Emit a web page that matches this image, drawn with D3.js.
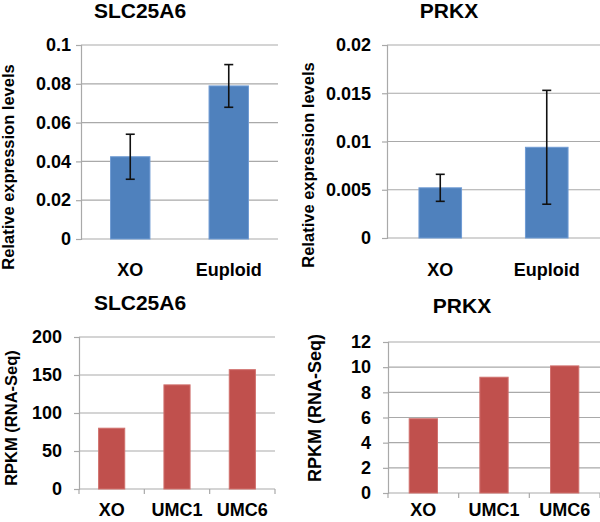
<!DOCTYPE html>
<html>
<head>
<meta charset="utf-8">
<script src="https://cdn.jsdelivr.net/npm/d3@7"></script>
<style>
  body { margin: 0; background: #fff; }
  text { font-family: "Liberation Sans", Arial, sans-serif; font-weight: bold; fill: #000; }
</style>
</head>
<body>
<svg id="chart"></svg>
<script>
// qPCR panels
const qpcrCats = ["XO", "Euploid"];
const slcQpcr = [0.0424, 0.0789];
const slcQpcrErr = [0.0116, 0.011];
const prkxQpcr = [0.0052, 0.0094];
const prkxQpcrErr = [0.0014, 0.0059];
const slcQpcrTicks = [0, 0.02, 0.04, 0.06, 0.08, 0.1];
const prkxQpcrTicks = [0, 0.005, 0.01, 0.015, 0.02];

// RNA-Seq panels
const rnaCats = ["XO", "UMC1", "UMC6"];
const slcRpkm = [80, 137, 157];
const prkxRpkm = [5.9, 9.2, 10.1];
const slcRpkmTicks = [0, 50, 100, 150, 200];
const prkxRpkmTicks = [0, 2, 4, 6, 8, 10, 12];

const width = 600, height = 522;
const svg = d3.select("#chart").attr("width", width).attr("height", height);

const gridColor = "#a9a9a9";
const font = "'Liberation Sans', Arial, sans-serif";

function drawPanel(p) {
    const g = svg.append("g");

    const x = d3.scaleBand()
        .domain(p.cats)
        .range([p.left, p.right])
        .paddingInner(0.6)
        .paddingOuter(0.3);

    const y = d3.scaleLinear()
        .domain([0, d3.max(p.ticks)])
        .range([p.bottom, p.top]);

    // gridlines
    g.selectAll("line.grid")
        .data(p.ticks)
        .enter().append("line")
        .attr("x1", p.left).attr("x2", p.right)
        .attr("y1", d => y(d)).attr("y2", d => y(d))
        .attr("stroke", gridColor).attr("stroke-width", 1.2);

    // y axis
    const yAxis = g.append("g")
        .attr("transform", `translate(${p.left},0)`)
        .call(d3.axisLeft(y).tickValues(p.ticks)
            .tickSize(5).tickPadding(p.tickPad)
            .tickFormat(d => String(+d.toFixed(4))))
        .attr("font-size", 18)
        .attr("font-family", font)
        .attr("font-weight", "bold");
    yAxis.select(".domain").attr("stroke", gridColor).attr("stroke-width", 1.2);
    yAxis.selectAll(".tick line").attr("stroke", gridColor).attr("stroke-width", 1.2);
    yAxis.selectAll(".tick text").attr("fill", "#000");

    // x tick marks at category boundaries
    if (p.xTicks) {
        const step = x.step();
        g.selectAll("line.xtick")
            .data(d3.range(p.cats.length + 1))
            .enter().append("line")
            .attr("x1", i => p.left + i * step).attr("x2", i => p.left + i * step)
            .attr("y1", p.bottom).attr("y2", p.bottom + 5)
            .attr("stroke", gridColor).attr("stroke-width", 1.2);
    }

    // bars
    g.selectAll("rect.bar")
        .data(p.values)
        .enter().append("rect")
        .attr("x", (d, i) => x(p.cats[i]))
        .attr("width", x.bandwidth())
        .attr("y", d => y(d))
        .attr("height", d => p.bottom - y(d))
        .attr("fill", p.color)
        .attr("stroke", p.edge).attr("stroke-width", 1);

    // error bars
    if (p.errors) {
        const eb = g.selectAll("g.err")
            .data(p.values)
            .enter().append("g")
            .attr("stroke", "#111").attr("stroke-width", 1.6);
        const cx = (d, i) => x(p.cats[i]) + x.bandwidth() / 2;
        eb.append("line")
            .attr("x1", cx).attr("x2", cx)
            .attr("y1", (d, i) => y(d + p.errors[i]))
            .attr("y2", (d, i) => y(d - p.errors[i]));
        eb.append("line")
            .attr("x1", (d, i) => cx(d, i) - 4.5).attr("x2", (d, i) => cx(d, i) + 4.5)
            .attr("y1", (d, i) => y(d + p.errors[i])).attr("y2", (d, i) => y(d + p.errors[i]));
        eb.append("line")
            .attr("x1", (d, i) => cx(d, i) - 4.5).attr("x2", (d, i) => cx(d, i) + 4.5)
            .attr("y1", (d, i) => y(d - p.errors[i])).attr("y2", (d, i) => y(d - p.errors[i]));
    }

    // category labels
    g.selectAll("text.cat")
        .data(p.cats)
        .enter().append("text")
        .attr("x", d => x(d) + x.bandwidth() / 2)
        .attr("y", p.catY)
        .attr("text-anchor", "middle")
        .style("font-size", "18px")
        .text(d => d);

    // title
    g.append("text")
        .attr("x", p.titleX).attr("y", p.titleY)
        .attr("text-anchor", "middle")
        .style("font-size", "21px")
        .text(p.title);

    // y label
    g.append("text")
        .attr("transform", `translate(${p.labelX},${p.labelY}) rotate(-90)`)
        .attr("dy", "0.35em")
        .attr("text-anchor", "middle")
        .style("font-size", p.labelSize + "px")
        .text(p.yLabel);
}

drawPanel({
    cats: qpcrCats, values: slcQpcr, errors: slcQpcrErr, ticks: slcQpcrTicks,
    left: 81, right: 278, top: 45, bottom: 239, tickPad: 5,
    color: "#4f81bd", edge: "#6f9bd3", xTicks: false, catY: 276,
    title: "SLC25A6", titleX: 140, titleY: 18,
    yLabel: "Relative expression levels", labelX: 8, labelY: 167, labelSize: 16.5
});

drawPanel({
    cats: qpcrCats, values: prkxQpcr, errors: prkxQpcrErr, ticks: prkxQpcrTicks,
    left: 387, right: 600, top: 45, bottom: 238, tickPad: 11,
    color: "#4f81bd", edge: "#6f9bd3", xTicks: false, catY: 276,
    title: "PRKX", titleX: 449, titleY: 18,
    yLabel: "Relative expression levels", labelX: 308, labelY: 165, labelSize: 16.5
});

drawPanel({
    cats: rnaCats, values: slcRpkm, errors: null, ticks: slcRpkmTicks,
    left: 79, right: 275, top: 337, bottom: 489, tickPad: 12,
    color: "#c0504d", edge: "#d0706d", xTicks: true, catY: 516,
    title: "SLC25A6", titleX: 140, titleY: 310,
    yLabel: "RPKM (RNA-Seq)", labelX: 11, labelY: 418, labelSize: 16.5
});

drawPanel({
    cats: rnaCats, values: prkxRpkm, errors: null, ticks: prkxRpkmTicks,
    left: 388, right: 600, top: 342, bottom: 493, tickPad: 12,
    color: "#c0504d", edge: "#d0706d", xTicks: true, catY: 516,
    title: "PRKX", titleX: 462, titleY: 313,
    yLabel: "RPKM (RNA-Seq)", labelX: 315, labelY: 408, labelSize: 18
});
</script>
</body>
</html>
